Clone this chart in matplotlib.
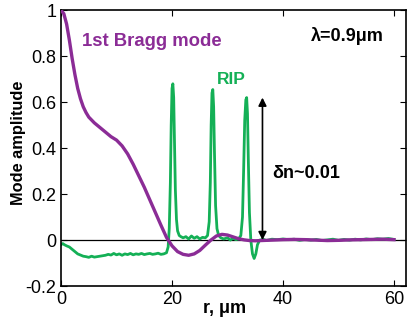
import matplotlib
matplotlib.use('Agg')
from matplotlib import pyplot as plt

plt.rcParams['font.family'] = ['Liberation Sans', 'DejaVu Sans']

# 1st Bragg mode (purple)
bragg_r = [0, 0.5, 1, 1.5, 2, 2.5, 3, 3.5, 4, 4.5, 5, 6, 7, 8, 9, 10, 11, 12, 13, 14,
           15, 16, 17, 18, 19, 20, 21, 22, 23, 24, 25, 26, 27, 28, 29, 30, 31, 32, 33,
           34, 35, 36, 38, 40, 42, 44, 46, 48, 50, 52, 54, 56, 58, 60]
bragg_amp = [1.0, 0.985, 0.94, 0.87, 0.79, 0.72, 0.66, 0.615, 0.58, 0.555, 0.535, 0.51,
             0.49, 0.47, 0.45, 0.435, 0.41, 0.375, 0.33, 0.28, 0.23, 0.175, 0.12,
             0.065, 0.012, -0.025, -0.05, -0.062, -0.066, -0.06, -0.045, -0.022, 0.0,
             0.018, 0.025, 0.022, 0.014, 0.006, 0.001, -0.002, -0.003, -0.002, 0.0,
             0.002, 0.003, 0.002, 0.0, -0.002, -0.001, 0.001, 0.002, 0.003, 0.004, 0.002]

# RIP (green)
rip_r = [0, 0.3, 0.6, 1, 1.5, 2, 2.5, 3, 3.5, 4, 4.5, 5, 5.5, 6, 6.5, 7, 7.5, 8, 8.5, 9,
         9.5, 10, 10.5, 11, 11.5, 12, 12.5, 13, 13.5, 14, 14.5, 15, 15.5, 16, 16.5, 17,
         17.5, 18, 18.5, 19, 19.3, 19.5, 19.7, 19.85, 20.0, 20.15, 20.3, 20.45, 20.6,
         20.8, 21.0, 21.3, 21.6, 22, 22.5, 23, 23.5, 24, 24.5, 25, 25.5, 26, 26.4, 26.7,
         26.9, 27.05, 27.2, 27.35, 27.5, 27.65, 27.85, 28.1, 28.4, 28.8, 29.3, 30, 30.5,
         31, 31.5, 32, 32.4, 32.7, 32.9, 33.1, 33.3, 33.45, 33.6, 33.75, 33.95, 34.2,
         34.5, 34.8, 35.1, 35.4, 35.8, 36.5, 37, 38, 39, 40, 41, 42, 43, 44, 45, 46, 47,
         48, 49, 50, 51, 52, 53, 54, 55, 56, 57, 58, 59, 60]
rip_amp = [-0.02, -0.015, -0.02, -0.025, -0.03, -0.04, -0.05, -0.06, -0.065, -0.07,
           -0.072, -0.075, -0.07, -0.074, -0.072, -0.07, -0.068, -0.066, -0.062, -0.065,
           -0.058, -0.064, -0.06, -0.066, -0.06, -0.063, -0.058, -0.064, -0.06, -0.062,
           -0.058, -0.063, -0.06, -0.058, -0.062, -0.06, -0.057, -0.062, -0.06, -0.055,
           -0.03, 0.05, 0.25, 0.5, 0.66, 0.68, 0.62, 0.42, 0.22, 0.09, 0.04, 0.02, 0.015,
           0.01, 0.015, 0.005, 0.018, 0.008, 0.015, 0.005, 0.012, 0.01, 0.02, 0.08, 0.25,
           0.5, 0.64, 0.655, 0.58, 0.38, 0.15, 0.05, 0.02, 0.01, 0.005, 0.01, 0.0, 0.008,
           0.002, 0.005, 0.02, 0.1, 0.3, 0.52, 0.61, 0.62, 0.55, 0.35, 0.12, 0.0, -0.06,
           -0.08, -0.06, -0.02, 0.0, 0.003, -0.002, 0.004, 0.002, 0.005, 0.002, 0.004,
           -0.001, 0.003, 0.0, 0.003, -0.002, 0.001, 0.004, -0.001, 0.003, 0.0, 0.004,
           0.001, 0.005, 0.002, 0.006, 0.004, 0.007, 0.003]

x_ticks = [0, 20, 40, 60]
y_ticks = [-0.2, 0, 0.2, 0.4, 0.6, 0.8, 1]
y_ticklabels = ['-0.2', '0', '0.2', '0.4', '0.6', '0.8', '1']

purple = '#8b2c96'
green = '#14b056'

fig = plt.figure(figsize=(4.07, 3.2), dpi=100)
ax = fig.add_axes([0.150, 0.106, 0.848, 0.862])

ax.axhline(0, color='black', lw=0.9, zorder=1)
ax.plot(rip_r, rip_amp, color=green, lw=2.0, zorder=2)
ax.plot(bragg_r, bragg_amp, color=purple, lw=2.4, zorder=3)

# delta n arrow
ax.annotate('', xy=(36.3, 0.62), xytext=(36.3, 0.0),
            arrowprops=dict(arrowstyle='<|-|>', color='black', lw=1.2,
                            mutation_scale=12, shrinkA=0, shrinkB=0), zorder=4)

ax.text(3.8, 0.865, '1st Bragg mode', color=purple, fontsize=13.3,
        fontweight='bold', va='center')
ax.text(28.0, 0.70, 'RIP', color=green, fontsize=12.5, fontweight='bold', va='center')
ax.text(45.0, 0.89, 'λ=0.9μm', color='black', fontsize=13, fontweight='bold', va='center')
ax.text(38.0, 0.29, 'δn~0.01', color='black', fontsize=13, fontweight='bold', va='center')

ax.set_xlim(0, 62.2)
ax.set_ylim(-0.2, 1)
ax.set_xticks(x_ticks)
ax.set_yticks(y_ticks)
ax.set_yticklabels(y_ticklabels)
ax.tick_params(direction='in', top=True, right=True, labelsize=13, length=4, width=0.8)
for s in ax.spines.values():
    s.set_linewidth(1.2)

ax.set_xlabel('r, μm', fontsize=13, fontweight='bold')
ax.xaxis.set_label_coords(0.475, -0.052)
ax.set_ylabel('Mode amplitude', fontsize=11.8, fontweight='bold')
ax.yaxis.set_label_coords(-0.102, 0.52)

fig.savefig('out.png', dpi=100)
